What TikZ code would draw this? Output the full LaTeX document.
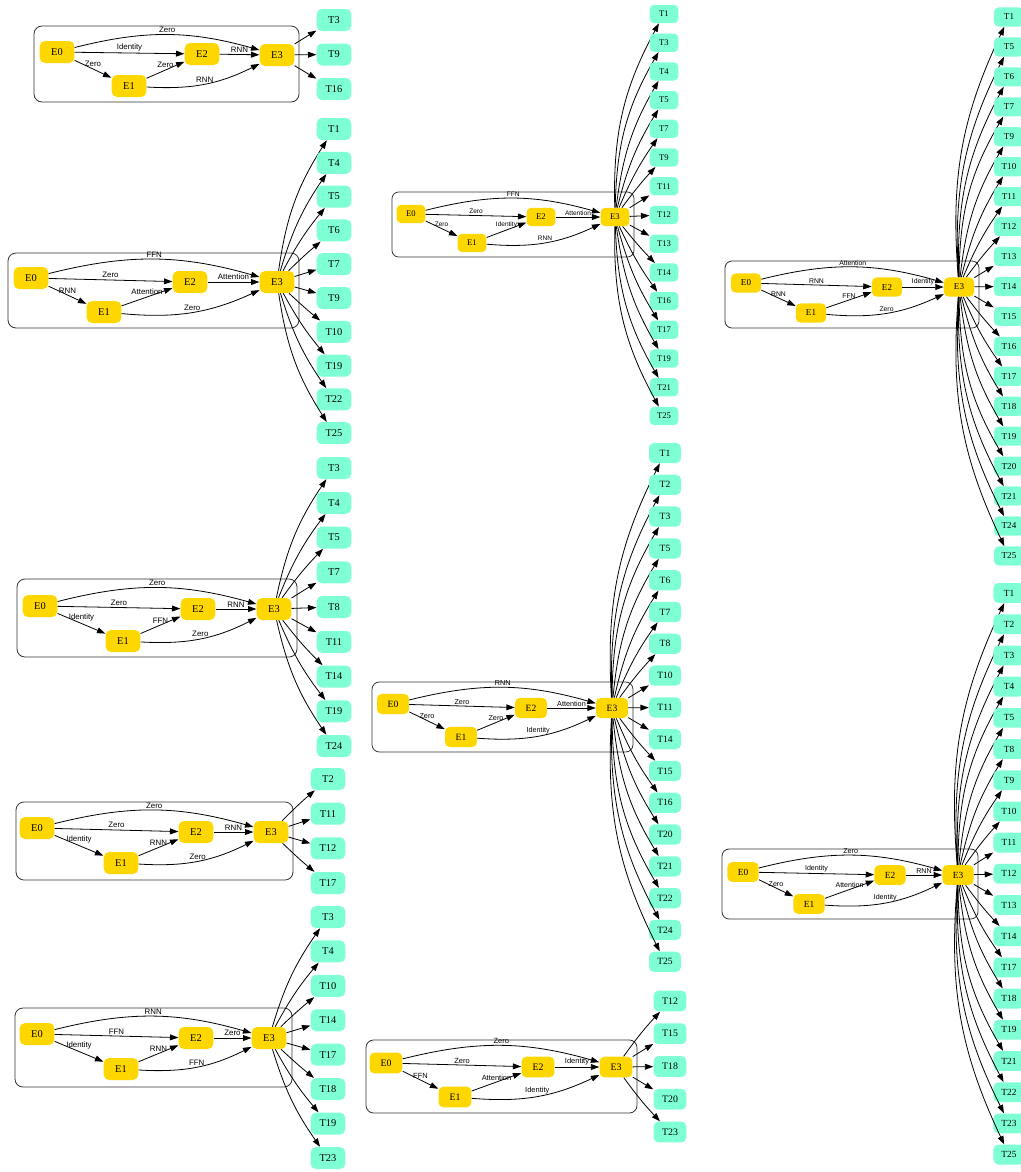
\documentclass[tikz,border=0pt]{standalone}
\usepackage{fontspec}
\setmainfont{Liberation Serif}
\newfontfamily\edgefont{Liberation Sans}
\usetikzlibrary{arrows.meta}
\definecolor{gold}{HTML}{FFD700}
\definecolor{aqua}{HTML}{7FFFD4}
\definecolor{frame}{HTML}{333333}

% the six edges of one cell: top, E0-E2, E0-E1, E1-E2, E2-E3, E1-E3
\newcommand\links[7]{%
  \draw[ar] (#10) to[bend left=15] node[lbl, above] {#2} (#13);
  \draw[ar] (#10) -- node[lbl, above] {#3} (#12);
  \draw[ar] (#10) -- node[lbl, above] {#4} (#11);
  \draw[ar] (#11) -- node[lbl, above] {#5} (#12);
  \draw[ar] (#12) -- node[lbl, above] {#6} (#13);
  \draw[ar] (#11) to[bend right=15] node[lbl, above] {#7} (#13);}

% column of targets: prefix, x, first y, step, y of E3, list
\newcommand\fan[6]{%
  \foreach \t [count=\i from 0] in {#6}{
    \pgfmathsetmacro\ty{#3+#4*\i}
    \node[tgt] (#1T\t) at (#2,\ty) {T\t};
    \pgfmathsetmacro\bd{min(15,max(0,abs(\ty-#5)-30)*0.1)*sign(\ty-#5)}
    \draw[ar] (#13) to[bend right=\bd] (#1T\t);
  }}

\begin{document}
\begin{tikzpicture}[x=0.75pt, y=-0.75pt,
  ent/.style={fill=gold, rounded corners=\sc*4pt, minimum width=\sc*26pt,
              minimum height=\sc*16.5pt, inner sep=0pt,
              font=\fontsize{\fpeval{\sc*7.8}}{\fpeval{\sc*9}}\selectfont},
  tgt/.style={ent, fill=aqua},
  lbl/.style={inner sep=\sc*1.2pt,
              font=\edgefont\fontsize{\fpeval{\sc*5.9}}{\fpeval{\sc*6.7}}\selectfont},
  grp/.style={draw=frame, line width=0.6pt, rounded corners=\sc*6pt},
  ar/.style ={-{Triangle[length=6.3pt, width=4.4pt]}, line width=0.6pt}
]
\useasboundingbox (0,0) rectangle (1021,1172);

% left column
\begin{scope}
\def\sc{1}
\draw[grp] (34,26) rectangle (299,102);
\node[ent] (a0) at (57,52) {E0};
\node[ent] (a1) at (129,86) {E1};
\node[ent] (a2) at (202,54) {E2};
\node[ent] (a3) at (277,55) {E3};
\links{a}{Zero}{Identity}{Zero}{Zero}{RNN}{RNN}
\fan{a}{334}{20}{34.5}{55}{3,9,16}
\end{scope}

\begin{scope}
\def\sc{1}
\draw[grp] (8,253) rectangle (299,328);
\node[ent] (b0) at (31,278) {E0};
\node[ent] (b1) at (104,312) {E1};
\node[ent] (b2) at (190,282) {E2};
\node[ent] (b3) at (277,282) {E3};
\links{b}{FFN}{Zero}{RNN}{Attention}{Attention}{Zero}
\fan{b}{334}{129}{33.8}{282}{1,4,5,6,7,9,10,19,22,25}
\end{scope}

\begin{scope}
\def\sc{1}
\draw[grp] (17,579) rectangle (297,657);
\node[ent] (c0) at (40,606) {E0};
\node[ent] (c1) at (123,641) {E1};
\node[ent] (c2) at (198,609) {E2};
\node[ent] (c3) at (274,609) {E3};
\links{c}{Zero}{Zero}{Identity}{FFN}{RNN}{Zero}
\fan{c}{334}{468}{34.75}{609}{3,4,5,7,8,11,14,19,24}
\end{scope}

\begin{scope}
\def\sc{1}
\draw[grp] (16,802) rectangle (293,880);
\node[ent] (d0) at (37,828) {E0};
\node[ent] (d1) at (121,863) {E1};
\node[ent] (d2) at (196,832) {E2};
\node[ent] (d3) at (271,832) {E3};
\links{d}{Zero}{Zero}{Identity}{RNN}{RNN}{Zero}
\fan{d}{328}{779}{34.7}{832}{2,11,12,17}
\end{scope}

\begin{scope}
\def\sc{1}
\draw[grp] (15,1008) rectangle (292,1087);
\node[ent] (e0) at (37,1034) {E0};
\node[ent] (e1) at (121,1069) {E1};
\node[ent] (e2) at (196,1038) {E2};
\node[ent] (e3) at (269,1038) {E3};
\links{e}{RNN}{FFN}{Identity}{RNN}{Zero}{FFN}
\fan{e}{328}{917}{34.43}{1038}{3,4,10,14,17,18,19,23}
\end{scope}

% middle column
\begin{scope}
\def\sc{0.83}
\draw[grp] (392,192) rectangle (634,257);
\node[ent] (f0) at (411,214) {E0};
\node[ent] (f1) at (472,243) {E1};
\node[ent] (f2) at (541,217) {E2};
\node[ent] (f3) at (615,217) {E3};
\links{f}{FFN}{Zero}{Zero}{Identity}{Attention}{RNN}
\fan{f}{664}{14}{28.71}{217}{1,3,4,5,7,9,11,12,13,14,16,17,19,21,25}
\end{scope}

\begin{scope}
\def\sc{0.92}
\draw[grp] (372,682) rectangle (633,752);
\node[ent] (g0) at (393,704) {E0};
\node[ent] (g1) at (461,737) {E1};
\node[ent] (g2) at (531,708) {E2};
\node[ent] (g3) at (612,708) {E3};
\links{g}{RNN}{Zero}{Zero}{Zero}{Attention}{Identity}
\fan{g}{665}{453}{31.8}{708}{1,2,3,5,6,7,8,10,11,14,15,16,20,21,22,24,25}
\end{scope}

\begin{scope}
\def\sc{0.95}
\draw[grp] (366,1040) rectangle (637,1113);
\node[ent] (h0) at (386,1063) {E0};
\node[ent] (h1) at (455,1097) {E1};
\node[ent] (h2) at (538,1067) {E2};
\node[ent] (h3) at (616,1067) {E3};
\links{h}{Zero}{Zero}{FFN}{Attention}{Identity}{Identity}
\fan{h}{670}{1001}{32.75}{1067}{12,15,18,20,23}
\end{scope}

% right column
\begin{scope}
\def\sc{0.87}
\draw[grp] (725,261) rectangle (979,328);
\node[ent] (i0) at (746,283) {E0};
\node[ent] (i1) at (811,313) {E1};
\node[ent] (i2) at (887,287) {E2};
\node[ent] (i3) at (959,287) {E3};
\links{i}{Attention}{RNN}{RNN}{FFN}{Identity}{Zero}
\fan{i}{1009}{17}{29.94}{287}{1,5,6,7,9,10,11,12,13,14,15,16,17,18,19,20,21,24,25}
\end{scope}

\begin{scope}
\def\sc{0.9}
\draw[grp] (722,849) rectangle (978,919);
\node[ent] (j0) at (743,872) {E0};
\node[ent] (j1) at (809,904) {E1};
\node[ent] (j2) at (890,875) {E2};
\node[ent] (j3) at (958,875) {E3};
\links{j}{Zero}{Identity}{Zero}{Attention}{RNN}{Identity}
\fan{j}{1009}{593}{31.2}{875}{1,2,3,4,5,8,9,10,11,12,13,14,17,18,19,21,22,23,25}
\end{scope}
\end{tikzpicture}
\end{document}
